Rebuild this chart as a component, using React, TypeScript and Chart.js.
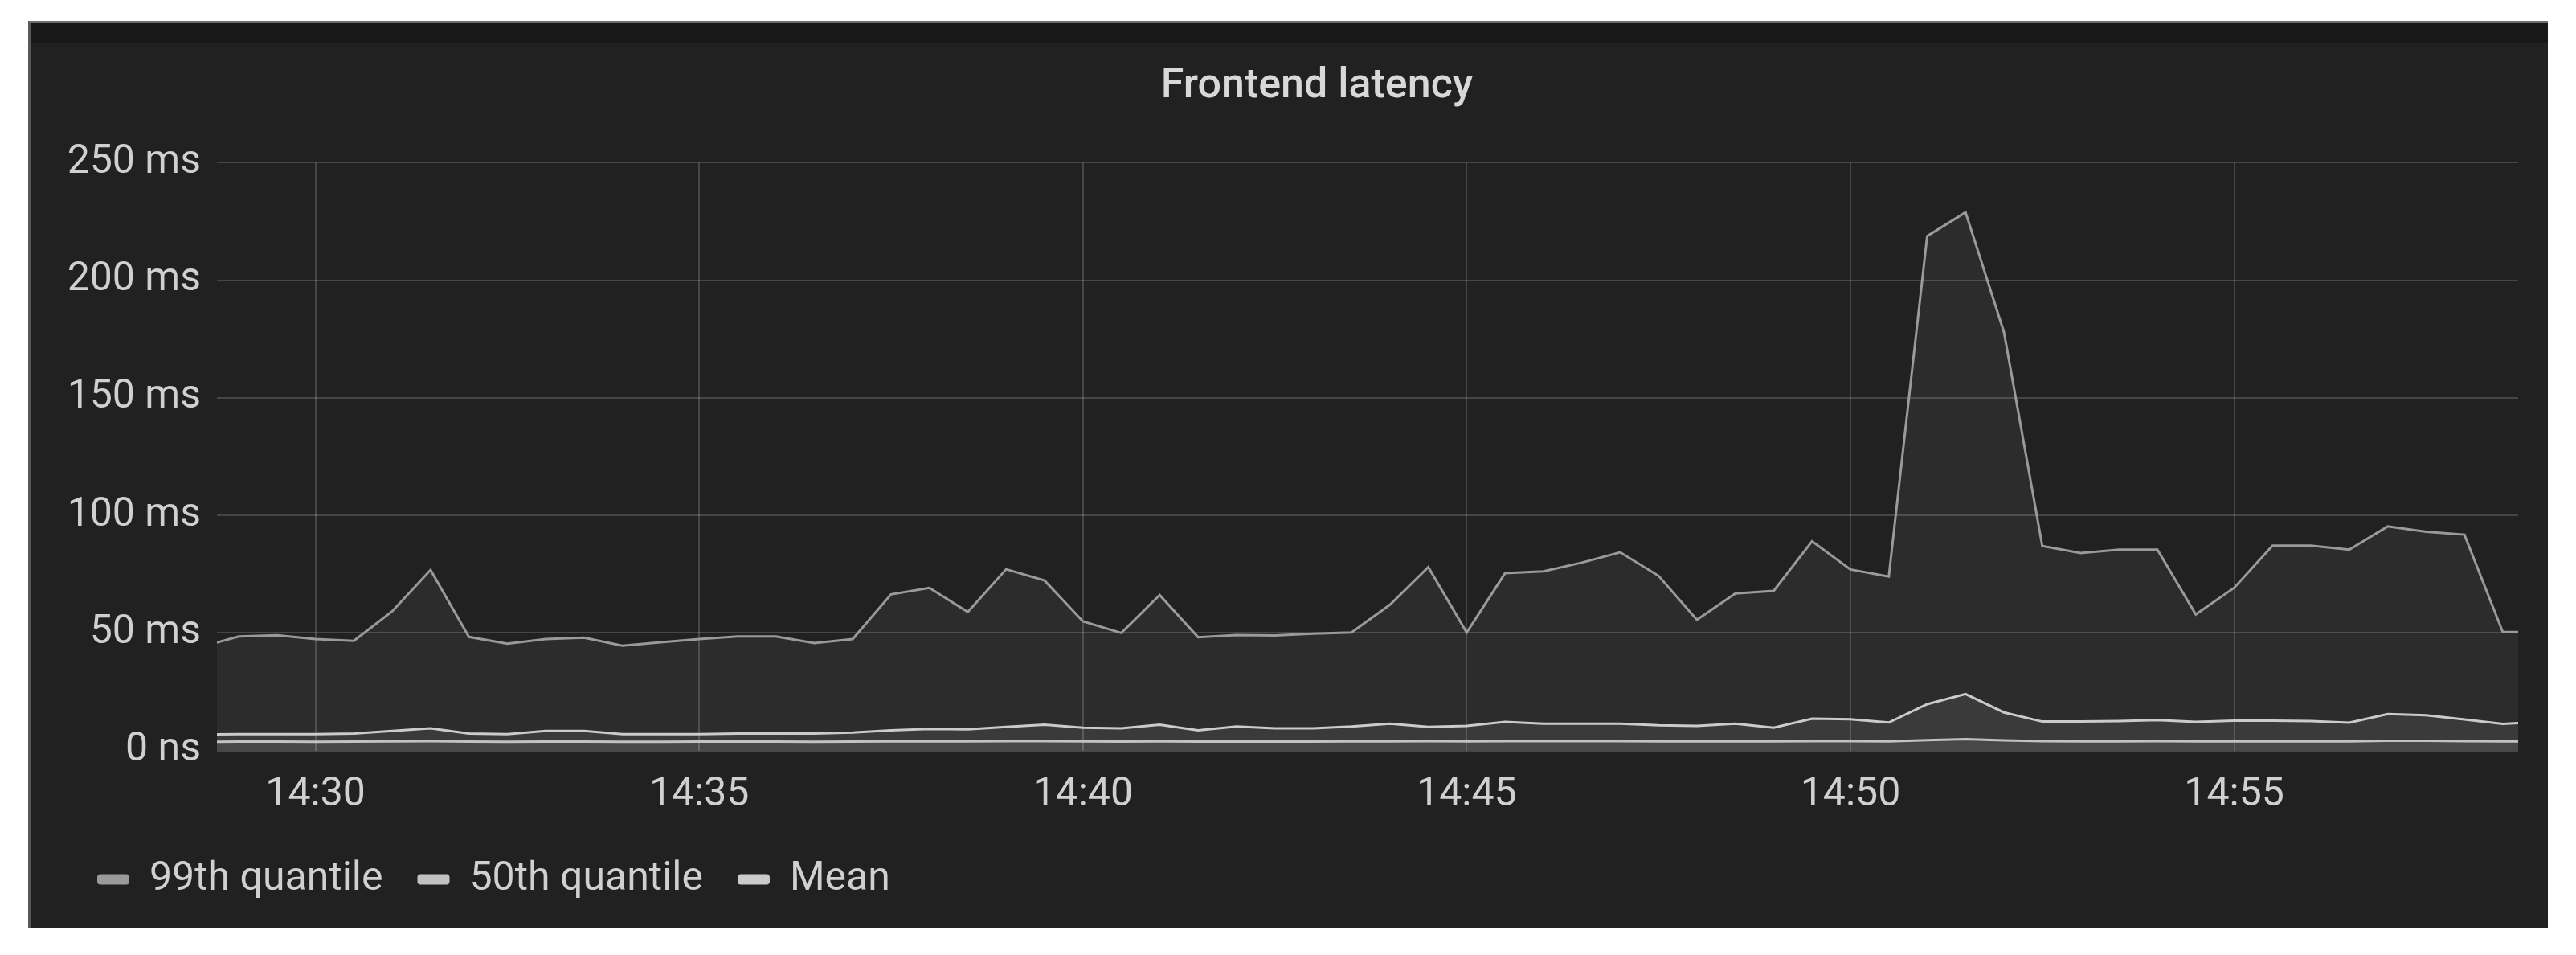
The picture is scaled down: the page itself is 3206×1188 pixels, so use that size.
import React, { useEffect, useRef } from "react";
import { Chart, registerables } from "chart.js";

Chart.register(...registerables);

// Sample times (30 s interval)
const timeLabels = [
  "14:28:30", "14:29:00", "14:29:30", "14:30:00", "14:30:30", "14:31:00", "14:31:30", "14:32:00", "14:32:30", "14:33:00",
  "14:33:30", "14:34:00", "14:34:30", "14:35:00", "14:35:30", "14:36:00", "14:36:30", "14:37:00", "14:37:30", "14:38:00",
  "14:38:30", "14:39:00", "14:39:30", "14:40:00", "14:40:30", "14:41:00", "14:41:30", "14:42:00", "14:42:30", "14:43:00",
  "14:43:30", "14:44:00", "14:44:30", "14:45:00", "14:45:30", "14:46:00", "14:46:30", "14:47:00", "14:47:30", "14:48:00",
  "14:48:30", "14:49:00", "14:49:30", "14:50:00", "14:50:30", "14:51:00", "14:51:30", "14:52:00", "14:52:30", "14:53:00",
  "14:53:30", "14:54:00", "14:54:30", "14:55:00", "14:55:30", "14:56:00", "14:56:30", "14:57:00", "14:57:30", "14:58:00",
  "14:58:30", "14:59:00",
];

// 99th quantile (ms)
const p99 = [
  44, 48.5, 49, 47.4, 46.6, 59.2, 76.8, 48.3, 45.4, 47.4,
  48, 44.6, 46, 47.4, 48.5, 48.5, 45.7, 47.4, 66.4, 69.2,
  58.9, 77.1, 72.3, 54.9, 50, 66.1, 48.2, 49.1, 48.9, 49.7,
  50.2, 62, 78, 50.2, 75.4, 76.2, 79.9, 84.3, 74.3, 55.6,
  66.8, 67.9, 89, 77, 74, 218.8, 228.9, 178, 87, 84,
  85.4, 85.4, 57.9, 69.2, 87.1, 87.1, 85.4, 95.3, 93, 91.8,
  50.4, 50.4,
];

// 50th quantile (ms)
const p50 = [
  3.7, 3.8, 3.8, 3.7, 3.8, 3.9, 4.0, 3.8, 3.7, 3.8,
  3.8, 3.7, 3.7, 3.8, 3.8, 3.8, 3.7, 3.8, 3.9, 3.9,
  3.9, 4.0, 4.0, 3.9, 3.8, 3.9, 3.8, 3.8, 3.8, 3.8,
  3.9, 3.9, 4.0, 3.9, 4.0, 4.0, 4.0, 4.0, 3.9, 3.9,
  3.9, 3.9, 4.0, 4.0, 3.9, 4.4, 4.8, 4.3, 4.0, 3.9,
  3.9, 4.0, 3.9, 3.9, 3.9, 3.9, 3.9, 4.1, 4.1, 4.0,
  3.9, 3.9,
];

// Mean (ms)
const meanMs = [
  6.8, 7.0, 7.0, 7.0, 7.2, 8.3, 9.4, 7.2, 7.0, 8.3,
  8.3, 7.0, 7.0, 7.0, 7.2, 7.2, 7.2, 7.6, 8.6, 9.2,
  9.0, 10.0, 11.0, 9.7, 9.4, 11.0, 8.6, 10.2, 9.4, 9.4,
  10.2, 11.4, 10.0, 10.5, 12.2, 11.4, 11.4, 11.4, 10.7, 10.5,
  11.4, 9.7, 13.5, 13.3, 11.9, 19.7, 24, 16.2, 12.3, 12.3,
  12.5, 12.9, 12.2, 12.7, 12.7, 12.5, 11.8, 15.5, 15, 13.2,
  11.3, 12.2,
];

const seriesNames = ["99th quantile", "50th quantile", "Mean"];
const lineColors = ["#9a9a9a", "#c2c2c2", "#cbcbcb"];
const fillColors = ["rgba(255,255,255,0.05)", "rgba(255,255,255,0.075)", "rgba(255,255,255,0.065)"];

// X tick labels (every 5 minutes) and visible window
const xTickLabels = ["14:30", "14:35", "14:40", "14:45", "14:50", "14:55"];
const viewStart = "14:28:43";
const viewEnd = "14:58:42";
const yMax = 250;
const yStep = 50;

const toSec = (s: string) => {
  const [h, m, sec] = s.split(":").map(Number);
  return h * 3600 + m * 60 + (sec || 0);
};
const fmtTime = (v: number) => {
  const h = Math.floor(v / 3600);
  const m = Math.floor((v % 3600) / 60);
  return `${String(h).padStart(2, "0")}:${String(m).padStart(2, "0")}`;
};

const FONT = "Roboto";
const TEXT = "#d0d0d0";
const GRID = "rgba(255,255,255,0.17)";

export default function App() {
  const ref = useRef<HTMLCanvasElement | null>(null);

  useEffect(() => {
    if (!ref.current) return;
    const xs = timeLabels.map(toSec);
    const all = [p99, p50, meanMs];
    const titleShift = {
      id: "titleShift",
      afterLayout(chart: any) {
        const t = chart.titleBlock;
        if (t) {
          t.left += 33;
          t.right += 33;
        }
      },
    };
    const chart = new Chart(ref.current, {
      type: "line",
      data: {
        datasets: all.map((vals, i) => ({
          label: seriesNames[i],
          data: vals.map((v, j) => ({ x: xs[j], y: v })),
          borderColor: lineColors[i],
          backgroundColor: fillColors[i],
          borderWidth: 3,
          fill: "origin",
          pointRadius: 0,
          tension: 0,
        })),
      },
      options: {
        animation: false,
        responsive: false,
        devicePixelRatio: 1,
        layout: { padding: { left: 40, right: 37, top: 0, bottom: 26 } },
        plugins: {
          filler: { drawTime: "beforeDatasetsDraw" },
          title: {
            display: true,
            text: "Frontend latency",
            color: "#d8d8d8",
            font: { family: FONT, size: 52, weight: "500" },
            padding: { top: 24, bottom: 63 },
          },
          legend: {
            position: "bottom",
            align: "start",
            labels: {
              color: TEXT,
              font: { family: FONT, size: 50 },
              boxWidth: 40,
              boxHeight: 13,
              padding: 43,
              useBorderRadius: true,
              borderRadius: 4,
              generateLabels: (c: any) => {
                const items = (Chart.defaults as any).plugins.legend.labels.generateLabels(c);
                items.forEach((it: any, i: number) => {
                  it.fillStyle = lineColors[i];
                  it.strokeStyle = lineColors[i];
                  it.lineWidth = 0;
                });
                return items;
              },
            },
          },
          tooltip: { enabled: false },
        },
        scales: {
          x: {
            type: "linear",
            min: toSec(viewStart),
            max: toSec(viewEnd),
            grid: { color: GRID, lineWidth: 2, drawTicks: false },
            border: { display: false },
            afterBuildTicks: (s: any) => {
              s.ticks = xTickLabels.map((t) => ({ value: toSec(t) }));
            },
            ticks: {
              autoSkip: false,
              maxRotation: 0,
              padding: 26,
              color: TEXT,
              font: { family: FONT, size: 50 },
              callback: (v: any) => fmtTime(Number(v)),
            },
            afterFit: (s: any) => {
              s.height = 92.4;
            },
          },
          y: {
            min: 0,
            max: yMax,
            grid: { color: GRID, lineWidth: 2, drawTicks: false },
            border: { display: false },
            ticks: {
              stepSize: yStep,
              padding: 20,
              color: TEXT,
              font: { family: FONT, size: 50 },
              callback: (v: any) => (Number(v) === 0 ? "0 ns" : `${v} ms`),
            },
            afterFit: (s: any) => {
              s.width = 192;
            },
          },
        },
      } as any,
      plugins: [titleShift],
    });
    return () => chart.destroy();
  }, []);

  return (
    <div style={{ position: "absolute", left: 0, top: 0, width: 3206, height: 1188, background: "#ffffff" }}>
      <div
        style={{
          position: "absolute",
          left: 35,
          top: 26,
          width: 3136,
          height: 1129,
          boxSizing: "border-box",
          background: "#212121",
          borderTop: "3px solid #6f6f6f",
          borderLeft: "3px solid #585858",
          overflow: "hidden",
        }}
      >
        <div style={{ position: "absolute", left: 0, top: 0, width: 3133, height: 24, background: "#181818" }} />
        <canvas
          ref={ref}
          width={3133}
          height={1102}
          style={{ position: "absolute", left: 0, top: 24, width: 3133, height: 1102, display: "block" }}
        />
      </div>
    </div>
  );
}
